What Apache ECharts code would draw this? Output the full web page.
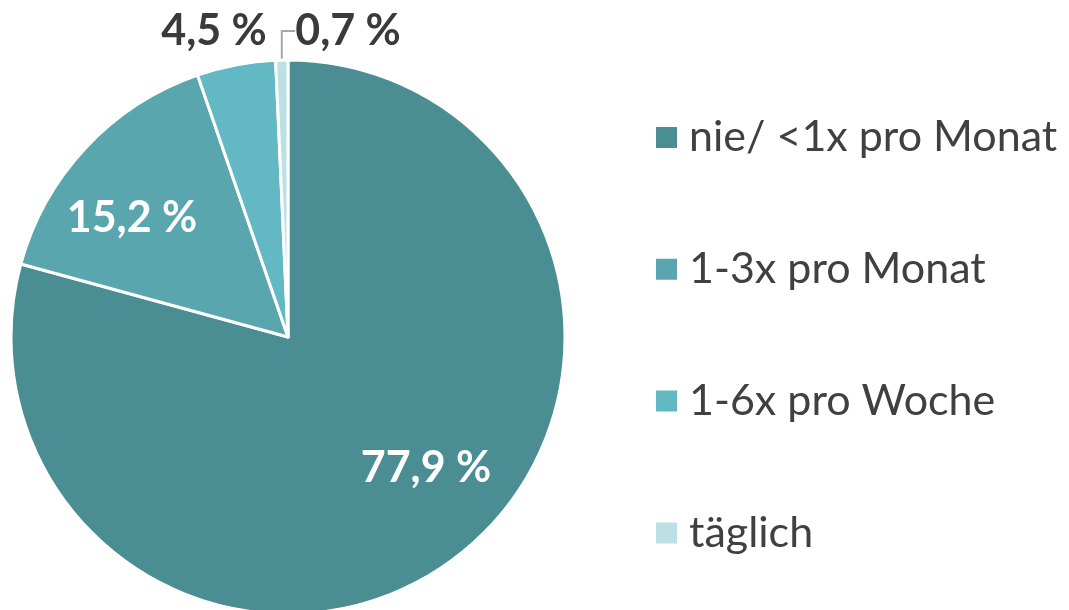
<!DOCTYPE html>
<html lang="de">
<head>
  <meta charset="UTF-8">
  <title>Pie</title>
  <style>
    html, body { height: 100%; width: 100%; margin: 0; padding: 0; background: #fff; }
  </style>
  <script src="https://cdn.jsdelivr.net/npm/echarts@6/dist/echarts.min.js"></script>
</head>
<body>
<div id="main" style="width: 1069px; height: 610px;"></div>
<script>
  var categories = ['nie/ <1x pro Monat', '1-3x pro Monat', '1-6x pro Woche', 'täglich'];
  var values = [77.9, 15.2, 4.5, 0.7];
  var colors = ['#4a8e93', '#59a6ae', '#62b9c3', '#bde0e4'];

  // where each percentage label sits (Excel style)
  var labelPos = [
    { x: 426, y: 468, color: '#ffffff' },
    { x: 132, y: 218, color: '#ffffff' },
    { x: 214, y: 31, color: '#3a3a3a' },
    { x: 348, y: 31, color: '#3a3a3a' }
  ];

  var myChart = echarts.init(document.getElementById('main'));

  var option = {
    color: colors,
    legend: {
      orient: 'vertical',
      left: 649,
      top: 111,
      icon: 'rect',
      itemWidth: 23,
      itemHeight: 23,
      itemGap: 88.8,
      selectedMode: false,
      data: categories,
      textStyle: {
        fontFamily: 'Lato',
        fontSize: 43,
        lineHeight: 42,
        color: '#404040',
        padding: [0, 0, 0, 6]
      }
    },
    series: [
      {
        type: 'pie',
        center: [288, 337],
        radius: 277,
        startAngle: 90,
        clockwise: true,
        animation: false,
        silent: true,
        itemStyle: { borderColor: '#ffffff', borderWidth: 3 },
        data: categories.map(function (c, i) {
          return {
            name: c,
            value: values[i],
            label: { color: labelPos[i].color },
            labelLine: { show: i === 3 }
          };
        }),
        label: {
          show: true,
          position: 'outside',
          overflow: 'none',
          fontFamily: 'Lato',
          fontWeight: 'bold',
          fontSize: 43,
          formatter: function (p) {
            return p.value.toFixed(1).replace('.', ',') + ' %';
          }
        },
        labelLine: {
          show: true,
          lineStyle: { color: '#a6a6a6', width: 2 }
        },
        labelLayout: function (params) {
          var lp = labelPos[params.dataIndex];
          return { x: lp.x, y: lp.y, align: 'center', verticalAlign: 'middle' };
        }
      }
    ]
  };
  myChart.setOption(option);
</script>
</body>
</html>
